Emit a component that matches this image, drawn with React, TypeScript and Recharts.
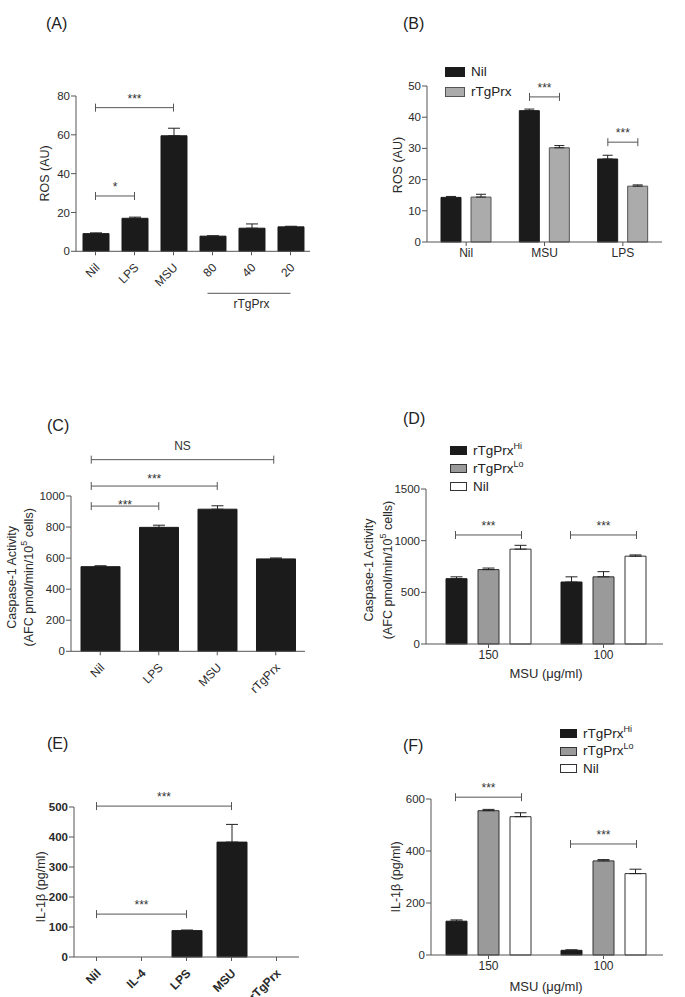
import React from "react";
import { BarChart, Bar, XAxis, YAxis, ErrorBar, ReferenceLine } from "recharts";

const FONT = "'Liberation Sans', Arial, Helvetica, sans-serif";
const AXIS = "#555555";
const INK = "#1b1b1b";
const TEXT = "#2a2a2a";

// (A) ROS, single treatments
const aCats = ["Nil", "LPS", "MSU", "80", "40", "20"];
const aMean = [9.1, 17, 59.5, 7.8, 11.9, 12.6];
const aSem = [0.4, 0.6, 3.9, 0.2, 2.2, 0.3];

// (B) ROS, Nil vs rTgPrx
const bCats = ["Nil", "MSU", "LPS"];
const bNil = [14.3, 42.1, 26.6];
const bNilSem = [0.3, 0.5, 1.2];
const bPrx = [14.4, 30.2, 17.9];
const bPrxSem = [0.9, 0.7, 0.4];

// (C) caspase-1
const cCats = ["Nil", "LPS", "MSU", "rTgPrx"];
const cMean = [545, 798, 915, 595];
const cSem = [6, 14, 22, 6];

// (D) caspase-1 by MSU dose
const doseCats = ["150", "100"];
const dHi = [632, 600];
const dHiSem = [18, 50];
const dLo = [720, 650];
const dLoSem = [15, 50];
const dNil = [918, 850];
const dNilSem = [37, 12];

// (E) IL-1b
const eCats = ["Nil", "IL-4", "LPS", "MSU", "rTgPrx"];
const eMean = [0, 0, 88, 383, 0];
const eSem = [0, 0, 2, 59, 0];

// (F) IL-1b by MSU dose
const fHi = [130, 18];
const fHiSem = [5, 2];
const fLo = [555, 362];
const fLoSem = [5, 5];
const fNil = [532, 313];
const fNilSem = [15, 17];

const YW = 70;
const TOP = 80;
const RIGHT = 20;
const XH = 70;

type Series = {
  key: string;
  name: string;
  sup?: string;
  fill: string;
  stroke: string;
  values: number[];
  sem: number[];
};

type Bracket = {
  from: string;
  to: string;
  y: number;
  text: string;
  dx1?: number;
  dx2?: number;
  lift?: number;
};

type Cfg = {
  letter: string;
  letterPos: [number, number];
  cats: string[];
  series: Series[];
  x0: number;
  x1: number;
  yTop: number;
  yBot: number;
  domain: [number, number];
  ticks: number[];
  barSize: number;
  barGap?: number;
  errW: number;
  rotate?: boolean;
  bold?: boolean;
  pad?: { left: number; right: number };
  group?: { start: number; end: number; label: string };
  yLabel: string[];
  yLabelX: number[];
  yLabelY: number;
  xLabel?: { text: string; x: number; y: number };
  legend?: { x: number; y: number; sw: number; sh: number; row: number };
  brackets: Bracket[];
};

const black = (key: string, name: string, values: number[], sem: number[], sup?: string): Series => ({
  key, name, sup, values, sem, fill: INK, stroke: INK,
});

const panels: Cfg[] = [
  {
    letter: "A", letterPos: [46, 16], cats: aCats,
    series: [black("ros", "ROS", aMean, aSem)],
    x0: 76, x1: 310, yTop: 95.7, yBot: 251, domain: [0, 80], ticks: [0, 20, 40, 60, 80],
    barSize: 26, errW: 6, rotate: true,
    group: { start: 3, end: 5, label: "rTgPrx" },
    yLabel: ["ROS (AU)"], yLabelX: [45], yLabelY: 173,
    brackets: [
      { from: "Nil", to: "MSU", y: 74, text: "***" },
      { from: "Nil", to: "LPS", y: 28.5, text: "*" },
    ],
  },
  {
    letter: "B", letterPos: [403, 16], cats: bCats,
    series: [
      black("nil", "Nil", bNil, bNilSem),
      { key: "prx", name: "rTgPrx", fill: "#ababab", stroke: "#555", values: bPrx, sem: bPrxSem },
    ],
    x0: 427, x1: 662, yTop: 86, yBot: 242, domain: [0, 50], ticks: [0, 10, 20, 30, 40, 50],
    barSize: 20, barGap: 10, errW: 5,
    yLabel: ["ROS (AU)"], yLabelX: [398], yLabelY: 165,
    legend: { x: 445, y: 62, sw: 20, sh: 10, row: 20 },
    brackets: [
      { from: "MSU", to: "MSU", y: 46.5, text: "***", dx1: -15, dx2: 15 },
      { from: "LPS", to: "LPS", y: 32, text: "***", dx1: -15, dx2: 15 },
    ],
  },
  {
    letter: "C", letterPos: [47, 418], cats: cCats,
    series: [black("casp", "Caspase", cMean, cSem)],
    x0: 71, x1: 305, yTop: 495.7, yBot: 651, domain: [0, 1000], ticks: [0, 200, 400, 600, 800, 1000],
    barSize: 39, errW: 6, rotate: true,
    yLabel: ["Caspase-1 Activity", "(AFC pmol/min/10|5| cells)"], yLabelX: [12, 29], yLabelY: 577,
    brackets: [
      { from: "Nil", to: "LPS", y: 935, text: "***", dx1: -9, lift: -3 },
      { from: "Nil", to: "MSU", y: 1064, text: "***", dx1: -9, lift: 3 },
      { from: "Nil", to: "rTgPrx", y: 1234, text: "NS", dx1: -9, dx2: -2, lift: 10 },
    ],
  },
  {
    letter: "D", letterPos: [403, 411], cats: doseCats,
    series: [
      black("hi", "rTgPrx", dHi, dHiSem, "Hi"),
      { key: "lo", name: "rTgPrx", sup: "Lo", fill: "#9a9a9a", stroke: "#333", values: dLo, sem: dLoSem },
      { key: "nil", name: "Nil", fill: "#ffffff", stroke: "#333", values: dNil, sem: dNilSem },
    ],
    x0: 426, x1: 663, yTop: 489, yBot: 644, domain: [0, 1500], ticks: [0, 500, 1000, 1500],
    barSize: 21, barGap: 11, errW: 6, pad: { left: 5, right: 2 },
    yLabel: ["Caspase-1 Activity", "(AFC pmol/min/10|5| cells)"], yLabelX: [369, 388], yLabelY: 570,
    xLabel: { text: "MSU (\u03bcg/ml)", x: 546, y: 673 },
    legend: { x: 450, y: 441.5, sw: 17, sh: 9, row: 18 },
    brackets: [
      { from: "150", to: "150", y: 1055, text: "***", dx1: -33, dx2: 33 },
      { from: "100", to: "100", y: 1055, text: "***", dx1: -33, dx2: 33 },
    ],
  },
  {
    letter: "E", letterPos: [47, 736], cats: eCats,
    series: [black("il", "IL-1b", eMean, eSem)],
    x0: 74, x1: 299, yTop: 807, yBot: 957, domain: [0, 500], ticks: [0, 100, 200, 300, 400, 500],
    barSize: 30, errW: 6, rotate: true, bold: true,
    yLabel: ["IL-1\u03b2 (pg/ml)"], yLabelX: [41], yLabelY: 887,
    brackets: [
      { from: "Nil", to: "MSU", y: 503, text: "***" },
      { from: "Nil", to: "LPS", y: 143, text: "***" },
    ],
  },
  {
    letter: "F", letterPos: [403, 738], cats: doseCats,
    series: [
      black("hi", "rTgPrx", fHi, fHiSem, "Hi"),
      { key: "lo", name: "rTgPrx", sup: "Lo", fill: "#9a9a9a", stroke: "#333", values: fLo, sem: fLoSem },
      { key: "nil", name: "Nil", fill: "#ffffff", stroke: "#333", values: fNil, sem: fNilSem },
    ],
    x0: 431, x1: 663, yTop: 799, yBot: 955, domain: [0, 600], ticks: [0, 200, 400, 600],
    barSize: 21, barGap: 11, errW: 6, pad: { left: 0, right: 2 },
    yLabel: ["IL-1\u03b2 (pg/ml)"], yLabelX: [396], yLabelY: 877,
    xLabel: { text: "MSU (\u03bcg/ml)", x: 546, y: 986 },
    legend: { x: 560, y: 724.75, sw: 17, sh: 9, row: 17.5 },
    brackets: [
      { from: "150", to: "150", y: 607, text: "***", dx1: -33, dx2: 33 },
      { from: "100", to: "100", y: 427, text: "***", dx1: -33, dx2: 33 },
    ],
  },
];

// line text with "|5|" marking a superscript
const SupText = ({ s }: { s: string }) => {
  const parts = s.split("|");
  return (
    <>
      {parts.map((p, i) =>
        i % 2 === 1 ? (
          <tspan key={i} dy={-5} fontSize={9}>{p}</tspan>
        ) : (
          <tspan key={i} dy={i > 0 ? 5 : 0}>{p}</tspan>
        )
      )}
    </>
  );
};

const YLabel = ({ cfg, left, top }: { cfg: Cfg; left: number; top: number }) => (
  <g>
    {cfg.yLabel.map((line, i) => {
      const cx = cfg.yLabelX[i] - left;
      const cy = cfg.yLabelY - top;
      return (
        <text
          key={i}
          x={cx}
          y={cy}
          transform={`rotate(-90 ${cx} ${cy})`}
          textAnchor="middle"
          dominantBaseline="central"
          fontSize={12.5}
          fontFamily={FONT}
          fill={TEXT}
        >
          <SupText s={line} />
        </text>
      );
    })}
  </g>
);

const XLabel = ({ cfg, left, top }: { cfg: Cfg; left: number; top: number }) =>
  cfg.xLabel ? (
    <text
      x={cfg.xLabel.x - left}
      y={cfg.xLabel.y - top}
      textAnchor="middle"
      dominantBaseline="central"
      fontSize={13}
      fontFamily={FONT}
      fill={TEXT}
    >
      {cfg.xLabel.text}
    </text>
  ) : null;

const bracketShape = (b: Bracket) => (p: any) => {
  const xa = p.x1 + (b.dx1 ?? 0);
  const xb = p.x2 + (b.dx2 ?? 0);
  const y = p.y1;
  const lift = b.lift ?? 5;
  return (
    <g>
      <path
        d={`M${xa},${y - 4}V${y + 4}M${xa},${y}H${xb}M${xb},${y - 4}V${y + 4}`}
        stroke="#555"
        strokeWidth={1}
        fill="none"
      />
      <text
        x={(xa + xb) / 2}
        y={y - lift}
        textAnchor="middle"
        fontSize={12}
        fontFamily={FONT}
        fill="#333"
      >
        {b.text}
      </text>
    </g>
  );
};

const rotatedTick = (cfg: Cfg) => (props: any) => {
  const { x, y, payload } = props;
  const idx: number = props.index ?? payload?.index ?? 0;
  const band = (cfg.x1 - cfg.x0) / cfg.cats.length;
  const g = cfg.group;
  const inGroup = g && idx >= g.start && idx <= g.end;
  return (
    <g>
      <text
        transform={`translate(${x + 5},${y + 11}) rotate(-45)`}
        textAnchor="end"
        fontSize={12}
        fontWeight={cfg.bold ? 700 : 400}
        fontFamily={FONT}
        fill={TEXT}
      >
        {payload.value}
      </text>
      {g && inGroup && (
        <line
          x1={idx === g.start ? x - 5 : x - band / 2}
          x2={idx === g.end ? x : x + band / 2}
          y1={y + 36}
          y2={y + 36}
          stroke={AXIS}
        />
      )}
      {g && idx === Math.round((g.start + g.end) / 2) && (
        <text x={x} y={y + 51} textAnchor="middle" fontSize={12} fontFamily={FONT} fill={TEXT}>
          {g.label}
        </text>
      )}
    </g>
  );
};

const Panel = ({ cfg }: { cfg: Cfg }) => {
  const left = cfg.x0 - YW;
  const top = cfg.yTop - TOP;
  const width = cfg.x1 - cfg.x0 + YW + RIGHT;
  const height = cfg.yBot - cfg.yTop + TOP + XH;
  const data = cfg.cats.map((c, i) => {
    const row: Record<string, any> = { cat: c };
    cfg.series.forEach((s) => {
      row[s.key] = s.values[i];
      row[s.key + "Err"] = [0, s.sem[i]];
    });
    return row;
  });
  const tickStyle = {
    fill: TEXT,
    fontSize: 12,
    fontFamily: FONT,
    fontWeight: cfg.bold ? 700 : 400,
  };
  return (
    <>
      <div
        style={{
          position: "absolute",
          left: cfg.letterPos[0],
          top: cfg.letterPos[1],
          fontSize: 16,
          lineHeight: "16px",
          fontFamily: FONT,
          color: "#222",
        }}
      >
        ({cfg.letter})
      </div>
      <div style={{ position: "absolute", left, top }}>
        <BarChart
          width={width}
          height={height}
          data={data}
          margin={{ top: TOP, right: RIGHT, bottom: 0, left: 0 }}
          barSize={cfg.barSize}
          barGap={cfg.barGap ?? 4}
        >
          <XAxis
            dataKey="cat"
            height={XH}
            interval={0}
            padding={cfg.pad ?? { left: 0, right: 0 }}
            axisLine={{ stroke: AXIS }}
            tickLine={{ stroke: AXIS }}
            tickSize={4}
            tickMargin={2}
            tick={cfg.rotate ? rotatedTick(cfg) : tickStyle}
            label={<XLabel cfg={cfg} left={left} top={top} />}
          />
          <YAxis
            width={YW}
            domain={cfg.domain}
            ticks={cfg.ticks}
            interval={0}
            axisLine={{ stroke: AXIS }}
            tickLine={{ stroke: AXIS }}
            tickSize={5}
            tickMargin={1}
            tick={{ ...tickStyle, fontSize: 11.5 }}
            label={<YLabel cfg={cfg} left={left} top={top} />}
          />
          {cfg.series.map((s) => (
            <Bar
              key={s.key}
              dataKey={s.key}
              name={s.name}
              fill={s.fill}
              stroke={s.stroke}
              strokeWidth={1}
              isAnimationActive={false}
            >
              <ErrorBar
                dataKey={s.key + "Err"}
                direction="y"
                width={cfg.errW}
                stroke="#222"
                strokeWidth={1}
              />
            </Bar>
          ))}
          {cfg.brackets.map((b, i) => (
            <ReferenceLine
              key={i}
              segment={[
                { x: b.from, y: b.y },
                { x: b.to, y: b.y },
              ]}
              ifOverflow="visible"
              shape={bracketShape(b)}
            />
          ))}
        </BarChart>
      </div>
      {cfg.legend && (
        <div
          style={{
            position: "absolute",
            left: cfg.legend.x,
            top: cfg.legend.y,
            fontFamily: FONT,
            fontSize: 13.5,
            color: "#222",
          }}
        >
          {cfg.series.map((s) => (
            <div
              key={s.key}
              style={{ display: "flex", alignItems: "center", height: cfg.legend!.row, whiteSpace: "nowrap" }}
            >
              <span
                style={{
                  display: "inline-block",
                  width: cfg.legend!.sw,
                  height: cfg.legend!.sh,
                  background: s.fill,
                  border: `1px solid ${s.stroke}`,
                  boxSizing: "border-box",
                  marginRight: 6,
                }}
              />
              <span style={{ lineHeight: "14px" }}>
                {s.name}
                {s.sup && (
                  <sup style={{ fontSize: 9, lineHeight: 0, verticalAlign: "6px" }}>{s.sup}</sup>
                )}
              </span>
            </div>
          ))}
        </div>
      )}
    </>
  );
};

export default function App() {
  return (
    <div
      style={{
        position: "absolute",
        left: 0,
        top: 0,
        width: 685,
        height: 997,
        overflow: "hidden",
        background: "#fff",
      }}
    >
      {panels.map((p) => (
        <Panel key={p.letter} cfg={p} />
      ))}
    </div>
  );
}
